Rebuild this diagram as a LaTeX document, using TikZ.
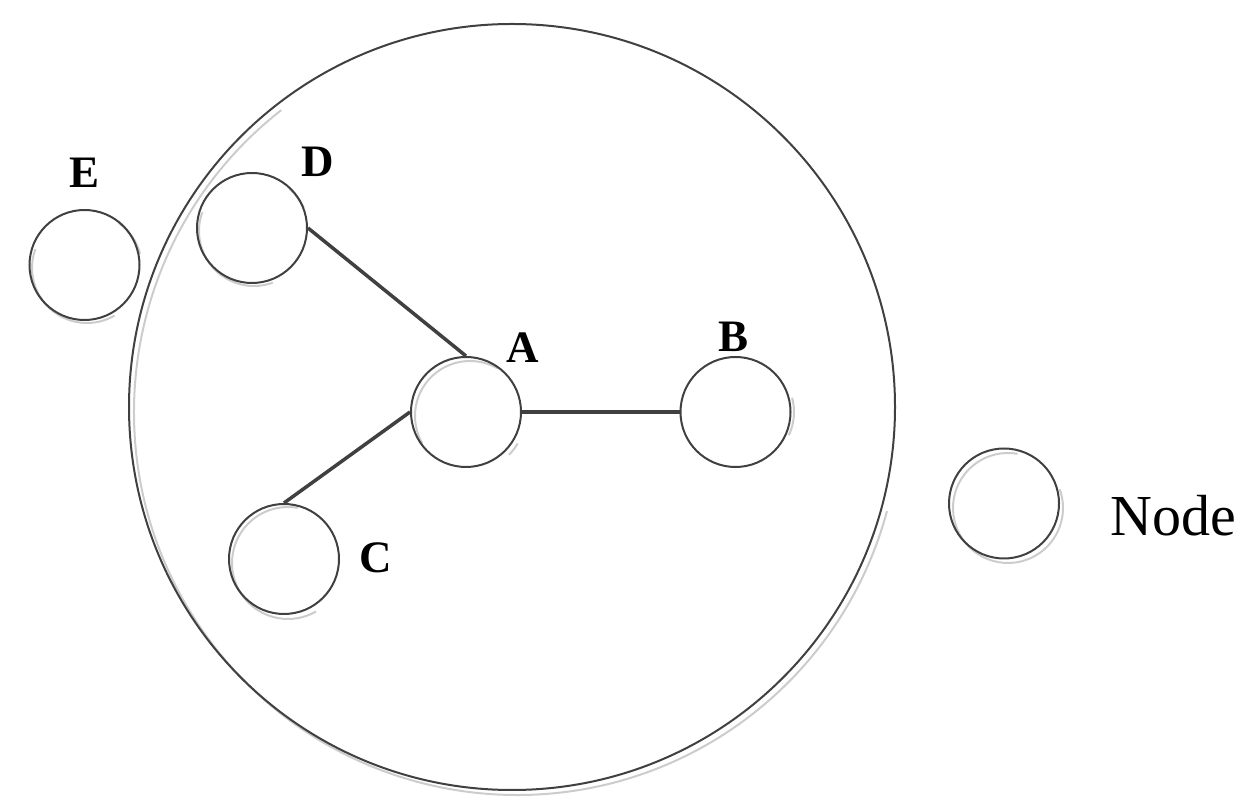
\documentclass[tikz,border=0pt]{standalone}
\usepackage{fontspec}
\setmainfont{Liberation Serif}
\begin{document}
\begin{tikzpicture}[x=1pt,y=1pt,
  node circ/.style={circle,draw=black!75,line width=2pt,minimum size=110pt,inner sep=0pt},
  big circ/.style={circle,draw=black!75,line width=2pt,minimum size=766pt,inner sep=0pt},
  shade arc/.style={draw=black!20,line width=2pt},
  link/.style={draw=black!75,line width=3.5pt},
  lbl/.style={font=\fontsize{45}{50}\selectfont\bfseries,inner sep=0pt},
  legend/.style={font=\fontsize{58}{62}\selectfont,inner sep=0pt}]
\useasboundingbox (0,0) rectangle (1257,808);
% shadow arcs
\draw[shade arc] ([shift={(128:383)}]517,396) arc[start angle=128,end angle=345,radius=383];
\draw[shade arc] ([shift={(160:55)}]87,540) arc[start angle=160,end angle=300,radius=55];
\draw[shade arc] ([shift={(15:55)}]87,540) arc[start angle=15,end angle=55,radius=55];
\draw[shade arc] ([shift={(160:55)}]254,577) arc[start angle=160,end angle=290,radius=55];
\draw[shade arc] ([shift={(25:55)}]254,577) arc[start angle=25,end angle=50,radius=55];
\draw[shade arc] ([shift={(60:55)}]470,392) arc[start angle=60,end angle=210,radius=55];
\draw[shade arc] ([shift={(-45:55)}]470,392) arc[start angle=-45,end angle=-30,radius=55];
\draw[shade arc] ([shift={(-25:55)}]739,396) arc[start angle=-25,end angle=15,radius=55];
\draw[shade arc] ([shift={(80:56)}]288,245) arc[start angle=80,end angle=300,radius=56];
\draw[shade arc] ([shift={(80:55)}]1008,300) arc[start angle=80,end angle=380,radius=55];
% circles
\node[big circ] (big) at (512,401) {};
\node[node circ] (E) at (84.5,543) {};
\node[node circ] (D) at (252,580) {};
\node[node circ] (A) at (466,396) {};
\node[node circ] (B) at (735.5,396) {};
\node[node circ] (C) at (284,249) {};
\node[node circ] (L) at (1004,304.5) {};
% labels
\node[lbl] (tE) at (85,635) {E};
\node[lbl] (tD) at (318,646) {D};
\node[lbl] (tA) at (523,460) {A};
\node[lbl] (tB) at (733,471) {B};
\node[lbl] (tC) at (376,250) {C};
\node[legend] (tL) at (1173,292) {Node};
% links
\draw[link] (D.east) -- (A.north);
\draw[link] (A.east) -- (B.west);
\draw[link] (A.west) -- (C.north);
\end{tikzpicture}
\end{document}
